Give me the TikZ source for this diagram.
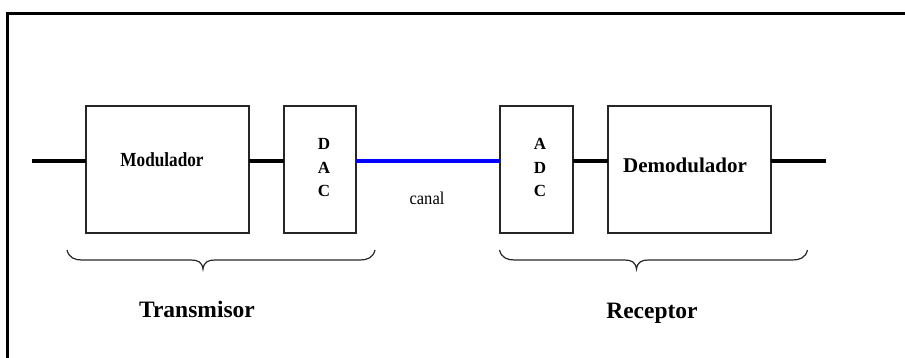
\documentclass[tikz,border=0pt]{standalone}
\usepackage{fontspec}
\setmainfont{Liberation Serif}
\begin{document}
\begin{tikzpicture}[x=1pt,y=-1pt,
  blk/.style={draw=black!85,line width=2pt,minimum height=127pt,inner sep=0pt,outer sep=0pt},
  wire/.style={line width=3.2pt,black},
  chan/.style={line width=3.2pt,blue},
  brc/.style={line width=1.2pt,black!85},
  lbl/.style={inner sep=0pt,anchor=base,font=\bfseries\fontsize{21}{25}\selectfont},
  letters/.style={inner sep=0pt,align=center,font=\bfseries\fontsize{17}{23.5}\selectfont},
  grp/.style={inner sep=0pt,anchor=base,font=\bfseries\fontsize{23.5}{28}\selectfont}]
\useasboundingbox (0,0) rectangle (905,358);
% frame
\draw[line width=3pt,black] (7.5,358) -- (7.5,13.5) -- (905,13.5);
% blocks
\node[blk,minimum width=163pt] (mod) at (167.2,169.2) {};
\node[blk,minimum width=71.7pt] (dac) at (320.2,169.2) {};
\node[blk,minimum width=72.4pt] (adc) at (536.5,169.2) {};
\node[blk,minimum width=162.7pt] (demod) at (689.7,169.2) {};
% labels
\node[lbl] (modt) at (162,167) {\scalebox{0.86}[1]{\fontsize{20}{24}\selectfont Modulador}};
\node[letters] (dact) at (324,168) {D\\A\\C};
\node[letters] (adct) at (540,167.5) {A\\D\\C};
\node[lbl] (demodt) at (685,173) {Demodulador};
\node[inner sep=0pt,anchor=base,font=\fontsize{18}{21}\selectfont] (canal) at (427,205) {\scalebox{0.92}[1]{canal}};
% wires
\coordinate (in) at (31.5,161);
\coordinate (out) at (826,161);
\draw[wire] (in) -- (in -| mod.west);
\draw[wire] (mod.east |- in) -- (dac.west |- in);
\draw[chan] (dac.east |- in) -- (adc.west |- in);
\draw[wire] (adc.east |- in) -- (demod.west |- in);
\draw[wire] (demod.east |- in) -- (out);
% braces
\draw[brc] (67,250) .. controls (69,258) and (75,260) .. (82,260) -- (191,260)
  .. controls (198,260) and (202,262) .. (203,269)
  .. controls (204,262) and (208,260) .. (215,260) -- (360,260)
  .. controls (367,260) and (373,258) .. (375,250);
\draw[brc] (499.5,250) .. controls (501.5,258) and (507.5,260) .. (514.5,260) -- (624.5,260)
  .. controls (631.5,260) and (635.5,262) .. (636.5,269)
  .. controls (637.5,262) and (641.5,260) .. (648.5,260) -- (792.5,260)
  .. controls (799.5,260) and (805.5,258) .. (807.5,250);
\node[grp] (tx) at (197,317.5) {Transmisor};
\node[grp] (rx) at (652,318) {Receptor};
\end{tikzpicture}
\end{document}
